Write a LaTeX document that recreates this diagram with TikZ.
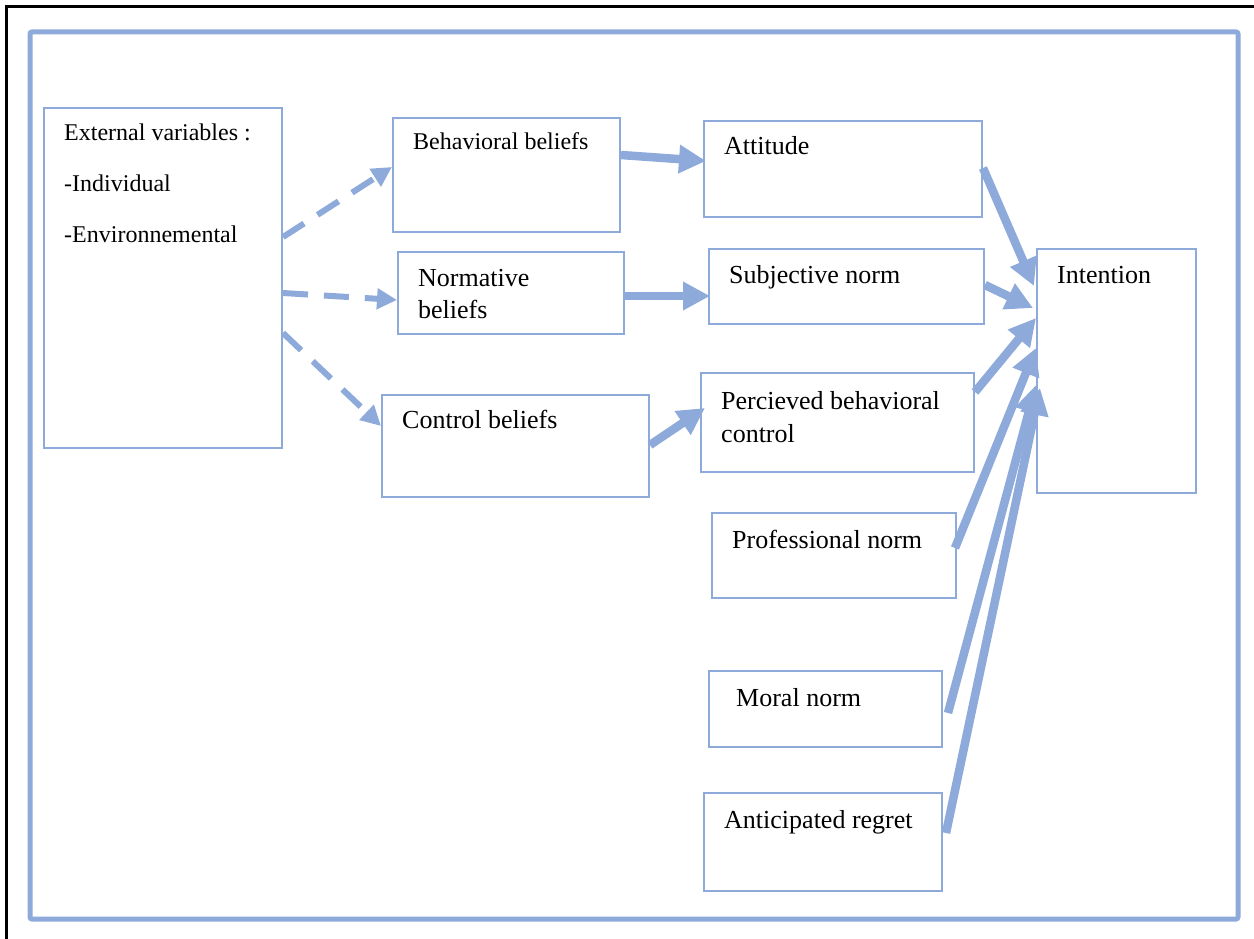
\documentclass[tikz,border=0pt]{standalone}
\usepackage{fontspec}
\setmainfont{Liberation Serif}
\usetikzlibrary{arrows.meta}
\definecolor{frameblue}{RGB}{142,170,219}
\begin{document}
\begin{tikzpicture}[x=1pt,y=-1pt,
  box/.style={draw=frameblue, line width=2pt, anchor=north west, inner sep=0pt},
  txt/.style={anchor=base west, inner sep=0pt, font=\fontsize{26}{30}\selectfont},
  txts/.style={anchor=base west, inner sep=0pt, font=\fontsize{24}{28}\selectfont},
  dasharrow/.style={draw=frameblue, line width=6pt, dash pattern=on 25pt off 16pt, -{Triangle[length=20pt,width=20pt]}},
  solidarrow/.style={draw=frameblue, line width=8.5pt, -{Triangle[length=27pt,width=27pt]}}]
\useasboundingbox (0,0) rectangle (1254,939);
\fill[white] (0,0) rectangle (1254,939);
% outer black border
\draw[black, line width=3pt] (6,939) -- (6,7) -- (1254,7);
% blue frame
\draw[frameblue, line width=5pt, rounded corners=2pt] (30,32) rectangle (1238,919);

% boxes
\node[box, minimum width=238pt, minimum height=340pt] (ext) at (43,107) {};
\node[box, minimum width=227pt, minimum height=114pt] (bb) at (392,117) {};
\node[box, minimum width=226pt, minimum height=82pt] (nb) at (397,251) {};
\node[box, minimum width=267pt, minimum height=102pt] (cb) at (381,394) {};
\node[box, minimum width=278pt, minimum height=96pt] (att) at (703,120) {};
\node[box, minimum width=275pt, minimum height=75pt] (sn) at (708,248) {};
\node[box, minimum width=273pt, minimum height=99pt] (pbc) at (700,372) {};
\node[box, minimum width=244pt, minimum height=85pt] (pn) at (711,512) {};
\node[box, minimum width=233pt, minimum height=76pt] (mn) at (708,670) {};
\node[box, minimum width=238pt, minimum height=98pt] (ar) at (703,792) {};
\node[box, minimum width=159pt, minimum height=244pt] (int) at (1036,248) {};

% texts
\node[txts] (extT1) at (64,141) {External variables :};
\node[txts] (extT2) at (64,192) {-Individual};
\node[txts] (extT3) at (64,243) {-Environnemental};
\node[txts] (bbT) at (413,150) {Behavioral beliefs};
\node[txt] (nbT1) at (418,286) {Normative};
\node[txt] (nbT2) at (418,318) {beliefs};
\node[txt] (cbT) at (402,428) {Control beliefs};
\node[txt] (attT) at (724,155) {Attitude};
\node[txt] (snT) at (729,283) {Subjective norm};
\node[txt] (pbcT1) at (721,409) {Percieved behavioral};
\node[txt] (pbcT2) at (721,442) {control};
\node[txt] (pnT) at (732,548) {Professional norm};
\node[txt] (mnT) at (736,706) {Moral norm};
\node[txt] (arT) at (724,828) {Anticipated regret};
\node[txt] (intT) at (1057,283) {Intention};

% dashed arrows
\draw[dasharrow] ([yshift=-130pt]ext.north east) -- ([yshift=-50pt]bb.north west);
\draw[dasharrow] ([yshift=-186pt]ext.north east) -- ([yshift=-49pt]nb.north west);
\draw[dasharrow] ([yshift=-226pt]ext.north east) -- ([yshift=-32pt]cb.north west);

% solid arrows
\draw[solidarrow] ([yshift=-38pt]bb.north east) -- ([xshift=3pt,yshift=-41pt]att.north west);
\draw[solidarrow] ([yshift=-45pt]nb.north east) -- ([xshift=2pt,yshift=-48pt]sn.north west);
\draw[solidarrow] ([yshift=-51pt]cb.north east) -- ([xshift=5pt,yshift=-36pt]pbc.north west);
\draw[solidarrow] ([yshift=-48pt]att.north east) -- ([xshift=-2pt,yshift=-38pt]int.north west);
\draw[solidarrow] ([yshift=-37pt]sn.north east) -- ([xshift=-3pt,yshift=-60pt]int.north west);
\draw[solidarrow] ([yshift=-20pt]pbc.north east) -- ([yshift=-70pt]int.north west);
\draw[solidarrow] ([xshift=-2pt,yshift=-36pt]pn.north east) -- ([yshift=-100pt]int.north west);
\draw[solidarrow] ([xshift=5pt,yshift=-43pt]mn.north east) -- ([yshift=-137pt]int.north west);
\draw[solidarrow] ([xshift=3pt,yshift=-41pt]ar.north east) -- ([xshift=4pt,yshift=-140pt]int.north west);
\end{tikzpicture}
\end{document}
